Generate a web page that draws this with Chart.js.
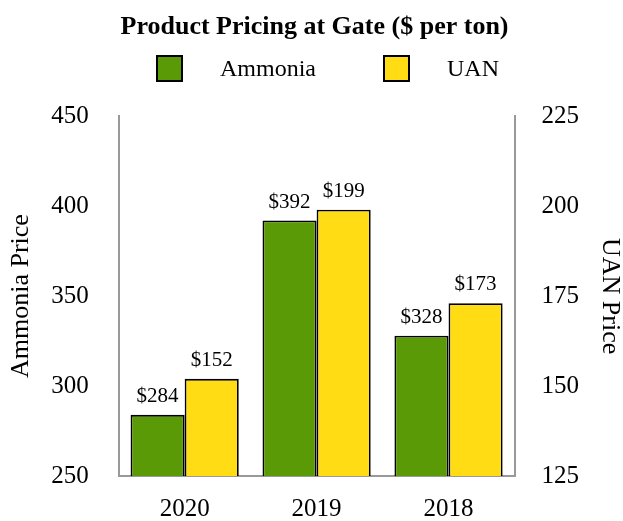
<!DOCTYPE html>
<html>
<head>
<meta charset="utf-8">
<script src="https://cdn.jsdelivr.net/npm/chart.js@4"></script>
<style>
  html, body { margin: 0; padding: 0; background: #fff; }
  #wrap { width: 623px; height: 521px; }
</style>
</head>
<body>
<div id="wrap"><canvas id="chart"></canvas></div>
<script>
/* --------------------- DATA -------------------- */
const years = ["2020", "2019", "2018"];
const ammoniaPrices = [284, 392, 328];
const uanPrices = [152, 199, 173];

const FONT = "'Liberation Serif', 'Times New Roman', serif";
const GREEN = "#5A9A06";
const YELLOW = "#FFDC14";

/* value labels above each bar */
const barLabels = {
  id: "barLabels",
  afterDatasetsDraw(chart) {
    const ctx = chart.ctx;
    ctx.save();
    ctx.font = "21px " + FONT;
    ctx.fillStyle = "#000";
    ctx.textAlign = "center";
    ctx.textBaseline = "bottom";
    chart.data.datasets.forEach((ds, i) => {
      chart.getDatasetMeta(i).data.forEach((bar, j) => {
        ctx.fillText("$" + ds.data[j], bar.x, bar.y - 8);
      });
    });
    ctx.restore();
  }
};

/* legend row under the title */
const topLegend = {
  id: "topLegend",
  afterDraw(chart) {
    const ctx = chart.ctx;
    const items = [
      { x: 157, label: chart.data.datasets[0].label, color: chart.data.datasets[0].backgroundColor },
      { x: 384, label: chart.data.datasets[1].label, color: chart.data.datasets[1].backgroundColor }
    ];
    ctx.save();
    ctx.font = "24px " + FONT;
    ctx.textBaseline = "middle";
    items.forEach((it) => {
      ctx.fillStyle = it.color;
      ctx.fillRect(it.x, 56, 25, 25);
      ctx.lineWidth = 2;
      ctx.strokeStyle = "#000";
      ctx.strokeRect(it.x, 56, 25, 25);
      ctx.fillStyle = "#000";
      ctx.fillText(it.label, it.x + 63, 70);
    });
    ctx.restore();
  }
};

new Chart(document.getElementById("chart"), {
  type: "bar",
  data: {
    labels: years,
    datasets: [
      {
        label: "Ammonia",
        data: ammoniaPrices,
        yAxisID: "y",
        backgroundColor: GREEN,
        borderColor: "#000",
        borderWidth: 1.8
      },
      {
        label: "UAN",
        data: uanPrices,
        yAxisID: "y1",
        backgroundColor: YELLOW,
        borderColor: "#000",
        borderWidth: 1.8
      }
    ]
  },
  options: {
    responsive: true,
    maintainAspectRatio: false,
    animation: false,
    devicePixelRatio: 1,
    layout: { padding: { left: 6, right: 0, bottom: -23 } },
    datasets: { bar: { categoryPercentage: 0.82, barPercentage: 1 } },
    plugins: {
      legend: { display: false },
      tooltip: { enabled: false },
      title: {
        display: true,
        text: "Product Pricing at Gate ($ per ton)",
        color: "#000",
        font: { family: FONT, size: 26, weight: "bold" },
        padding: { top: 12, bottom: 73 }
      }
    },
    scales: {
      x: {
        grid: { display: false, drawTicks: false },
        border: { display: true, color: "#999", width: 2 },
        ticks: { color: "#000", font: { family: FONT, size: 25 }, padding: 18 }
      },
      y: {
        position: "left",
        min: 250,
        max: 450,
        grid: { display: false, drawTicks: false },
        border: { display: true, color: "#999", width: 2 },
        ticks: { stepSize: 50, color: "#000", font: { family: FONT, size: 25 }, padding: 30 },
        title: {
          display: true,
          text: "Ammonia Price",
          color: "#000",
          font: { family: FONT, size: 26 },
          padding: { top: 0, bottom: -16 }
        }
      },
      y1: {
        position: "right",
        min: 125,
        max: 225,
        grid: { display: false, drawTicks: false },
        border: { display: true, color: "#999", width: 2 },
        ticks: { stepSize: 25, color: "#000", font: { family: FONT, size: 25 }, padding: 27 },
        title: {
          display: true,
          text: "UAN Price",
          color: "#000",
          font: { family: FONT, size: 26, lineHeight: 1 },
          padding: { top: 0, bottom: -9 }
        }
      }
    }
  },
  plugins: [barLabels, topLegend]
});
</script>
</body>
</html>
